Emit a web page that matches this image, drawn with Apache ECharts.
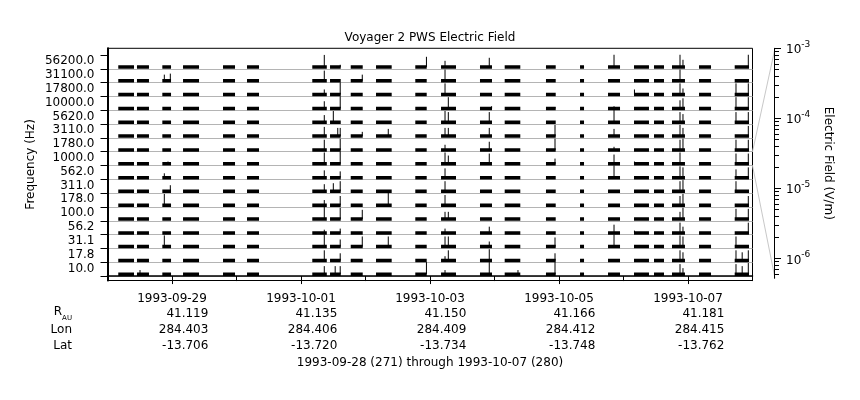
<!DOCTYPE html>
<html><head><meta charset="utf-8">
<script src="https://cdn.jsdelivr.net/npm/echarts@6/dist/echarts.min.js"></script>
<style>html,body{margin:0;padding:0;background:#fff}#c{width:860px;height:400px}</style>
</head><body><div id="c"></div>
<script>
// ---------- data ----------
const freqLabels = ['10.0','17.8','31.1','56.2','100.0','178.0','311.0','562.0','1000.0','1780.0','3110.0','5620.0','10000.0','17800.0','31100.0','56200.0'];
const dateLabels = ['1993-09-29','1993-10-01','1993-10-03','1993-10-05','1993-10-07'];
const dateDays = [1,3,5,7,9];               // days since 1993-09-28 00:00
const rAU = ['41.119','41.135','41.150','41.166','41.181'];
const lonVals = ['284.403','284.406','284.409','284.412','284.415'];
const latVals = ['-13.706','-13.720','-13.734','-13.748','-13.762'];
const footerText = '1993-09-28 (271) through 1993-10-07 (280)';
const fieldTicks = [1e-6,1e-5,1e-4,1e-3];
// data-coverage segments (days since 1993-09-28 00:00)
const segStart = [0.167,0.457,0.85,1.171,1.791,2.163,3.175,3.45,3.771,4.163,4.772,5.171,5.775,6.158,6.798,7.326,7.76,8.163,8.473,8.752,9.171,9.724];
const segEnd   = [0.411,0.643,0.985,1.419,1.977,2.349,3.40,3.616,3.957,4.406,4.949,5.403,5.961,6.40,6.949,7.388,7.946,8.395,8.628,8.953,9.357,9.946];
// background level per channel (V/m)
const noiseFloor = [1.4e-6,1.3e-6,1.4e-6,1.3e-6,1.4e-6,1.35e-6,1.4e-6,1.3e-6,1.3e-6,1.35e-6,1.35e-6,1.3e-6,1.35e-6,1.4e-6,1.4e-6,1.4e-6];
// impulsive events per channel: [day, V/m]
const spikes10    = [[0.504,1.4e-5],[3.361,1.2e-4],[3.53,1.2e-4],[3.608,1.2e-4],[4.945,1.1e-3],[5.233,1.4e-5],[5.919,1.1e-3],[6.364,1.4e-5],[6.938,1.1e-3],[8.876,3.6e-4],[8.922,4e-5],[9.744,3.6e-4],[9.84,1.2e-4],[9.935,6.5e-4]];
const spikes17    = [[3.361,3.6e-4],[3.608,7e-5],[5.233,1.4e-5],[5.284,3.6e-4],[5.919,6.5e-4],[6.938,7e-5],[8.876,3.6e-4],[8.922,1.2e-4],[9.744,3.6e-4],[9.84,1.2e-4],[9.935,3.6e-4]];
const spikes31    = [[0.881,6.5e-4],[3.361,1.1e-3],[3.608,7e-5],[3.95,3.6e-4],[4.353,3.6e-4],[5.233,3.6e-4],[5.284,3.6e-4],[5.919,2.3e-5],[6.938,2.1e-4],[7.853,1.1e-3],[8.876,6.5e-4],[8.922,3.6e-4],[9.744,3.6e-4]];
const spikes56    = [[3.361,7.6e-6],[3.608,1.4e-5],[5.233,1.4e-5],[5.919,4e-5],[7.853,1.2e-4],[8.17,4.6e-6],[8.876,3.6e-4],[8.922,4e-5],[9.935,3.6e-4]];
const spikes100   = [[3.361,1.1e-3],[3.608,6.5e-4],[3.95,2.1e-4],[5.233,7e-5],[5.284,7e-5],[8.876,7e-5],[8.922,6.5e-4],[9.744,3.6e-4],[9.935,3.6e-4]];
const spikes178   = [[0.881,6.5e-4],[3.361,2.3e-5],[3.608,2.1e-4],[4.353,1.1e-3],[5.233,3.6e-4],[8.876,2.1e-4],[8.922,6.5e-4],[9.935,2.1e-4]];
const spikes311   = [[0.974,4e-5],[3.361,7e-5],[3.501,1.2e-4],[3.608,3.6e-4],[5.233,3.6e-4],[6.364,2.7e-6],[8.876,3.6e-4],[8.922,6.5e-4],[9.744,3.6e-4]];
const spikes562   = [[0.881,1.4e-5],[3.361,7e-5],[3.608,4e-5],[5.233,2.1e-4],[7.853,1.1e-3],[8.876,6.5e-4],[8.922,3.6e-4],[9.744,1.2e-4],[9.935,3.6e-4]];
const spikes1000  = [[0.938,4.6e-6],[3.361,6.5e-4],[3.608,1.1e-3],[5.233,6.5e-4],[5.284,1.2e-4],[5.919,3.6e-4],[6.938,2.3e-5],[7.853,2.1e-4],[8.17,4.6e-6],[8.876,6.5e-4],[9.744,3.6e-4],[9.935,3.6e-4]];
const spikes1780  = [[3.361,3.6e-4],[3.608,6.5e-4],[5.233,2.3e-5],[5.919,1.2e-4],[6.938,6.5e-4],[7.853,7.6e-6],[8.876,3.6e-4],[8.922,6.5e-4],[9.744,3.6e-4],[9.935,3.6e-4]];
const spikes3110  = [[3.361,2.1e-4],[3.57,1.2e-4],[3.608,1.2e-4],[3.95,1.4e-5],[4.353,7e-5],[5.233,1.2e-4],[5.284,1.2e-4],[5.919,1.2e-4],[6.938,6.5e-4],[7.853,7e-5],[8.876,6.5e-4],[8.922,1.2e-4],[9.935,3.6e-4]];
const spikes5620  = [[3.361,7e-5],[3.501,6.5e-4],[5.233,6.5e-4],[5.284,3.6e-4],[5.919,3.6e-4],[7.853,1.1e-3],[8.876,3.6e-4],[8.922,1.2e-4],[9.744,3.6e-4],[9.935,3.6e-4]];
const spikes10000 = [[0.974,2.7e-6],[3.361,7e-5],[3.608,1.1e-3],[5.284,6.5e-4],[5.955,4.6e-6],[6.938,2.7e-6],[7.853,4.6e-6],[8.876,1.2e-4],[8.922,3.6e-4],[9.744,6.5e-4],[9.935,6.5e-4]];
const spikes17800 = [[3.361,2.3e-5],[3.608,1.1e-3],[5.233,6.5e-4],[7.853,2.7e-6],[8.17,2.3e-5],[8.876,6.5e-4],[8.922,4e-5],[9.744,6.5e-4],[9.935,6.5e-4]];
const spikes31100 = [[0.881,4e-5],[0.974,7e-5],[3.361,3.6e-4],[3.95,4e-5],[5.233,6.5e-4],[8.876,6.5e-4]];
const spikes56200 = [[3.361,1e-3],[3.608,4.6e-6],[4.945,3.6e-4],[5.233,4e-5],[5.919,2.1e-4],[7.853,1.1e-3],[8.876,1.1e-3],[8.922,7e-5],[9.935,1.1e-3]];
const spikes = [spikes10,spikes17,spikes31,spikes56,spikes100,spikes178,spikes311,spikes562,spikes1000,spikes1780,spikes3110,spikes5620,spikes10000,spikes17800,spikes31100,spikes56200];

// ---------- layout ----------
const FONT = 'DejaVu Sans';
const L = 107.5, R = 752.5, T = 48.3, B = 280.5;
const yMin = -0.32, yMax = 16.48;
const eMin = 5.2e-7, eMax = 1e-3;
const cbX = 775, cbTop = 48.3, cbBottom = 278.3;
function yPix(v){ return T + (yMax - v) / (yMax - yMin) * (B - T); }
const channelIdx = freqLabels.map((_, i) => i);

const grids = [{left: L, top: T, width: R - L, height: B - T, show: true, borderColor: '#000', borderWidth: 1, backgroundColor: 'transparent'}];
const xAxes = [
  {type: 'value', gridIndex: 0, min: 0, max: 10, interval: 1,
   axisLine: {show: true, lineStyle: {color: '#000', width: 1.5}},
   axisTick: {show: true, length: 5, lineStyle: {color: '#000'}},
   axisLabel: {show: true, customValues: dateDays, margin: 12, color: '#000', fontFamily: FONT, fontSize: 12,
     formatter: v => { const i = dateDays.indexOf(Math.round(v)); return i >= 0 ? dateLabels[i] : ''; }},
   splitLine: {show: false}},
  {type: 'value', gridIndex: 0, min: 0, max: 10, position: 'bottom',
   axisLine: {show: false}, axisLabel: {show: false}, splitLine: {show: false},
   axisTick: {show: true, length: 8, customValues: dateDays, lineStyle: {color: '#000'}}}
];
const yAxes = [
  {type: 'value', gridIndex: 0, min: yMin, max: yMax, z: 5,
   axisLine: {show: true, lineStyle: {color: '#000', width: 2}},
   axisTick: {show: true, length: 7, customValues: channelIdx.concat([16]), lineStyle: {color: '#000'}},
   axisLabel: {show: true, customValues: channelIdx.map(i => i + 0.55), margin: 13, color: '#000', fontFamily: FONT, fontSize: 12,
     formatter: v => freqLabels[Math.floor(v)] || ''},
   splitLine: {show: false},
   name: 'Frequency (Hz)', nameLocation: 'middle', nameGap: 71, nameRotate: 90, nameMoveOverlap: false,
   nameTextStyle: {color: '#000', fontFamily: FONT, fontSize: 12}}
];
const series = [];
for (let k = 0; k < 16; k++) {
  const gTop = yPix(k + 1), gBot = yPix(k);
  grids.push({left: L, top: gTop, width: R - L, height: gBot - gTop, show: false});
  xAxes.push({type: 'value', gridIndex: k + 1, min: 0, max: 10, show: false});
  yAxes.push({type: 'log', gridIndex: k + 1, min: eMin, max: eMax, show: false});
  const fl = noiseFloor[k];
  const band = [];
  for (let s = 0; s < segStart.length; s++) {
    band.push([segStart[s], fl], [segEnd[s], fl], [segEnd[s], '-']);
  }
  series.push({type: 'line', xAxisIndex: k + 2, yAxisIndex: k + 1, data: band, showSymbol: false, symbol: 'none',
    clip: false, z: 3, lineStyle: {color: '#000', width: 3.5, cap: 'butt'}, silent: true});
  const sp = [];
  spikes[k].forEach(([t, e]) => { sp.push([t, fl], [t, e], [t, '-']); });
  series.push({type: 'line', xAxisIndex: k + 2, yAxisIndex: k + 1, data: sp, showSymbol: false, symbol: 'none',
    clip: false, z: 4, lineStyle: {color: '#000', width: 1}, silent: true});
}
// colour-bar style field axis
grids.push({left: cbX - 1, top: cbTop, width: 1, height: cbBottom - cbTop, show: false});
xAxes.push({type: 'value', gridIndex: 17, min: 0, max: 1, show: false});
const minorVals = [];
for (let d = -7; d <= -4; d++) for (let m = 2; m <= 9; m++) { const v = m * Math.pow(10, d); if (v >= eMin && v <= eMax) minorVals.push(v); }
yAxes.push({type: 'log', gridIndex: 17, min: eMin, max: eMax, position: 'right',
  axisLine: {show: true, lineStyle: {color: '#000', width: 1}},
  axisTick: {show: true, length: 7, customValues: fieldTicks, lineStyle: {color: '#000'}},
  axisLabel: {show: true, customValues: fieldTicks, margin: 11, color: '#000', fontFamily: FONT,
    formatter: v => '{b|10}{s|' + Math.round(Math.log10(v)) + '}',
    rich: {b: {fontSize: 12, fontFamily: FONT, color: '#000', lineHeight: 16, verticalAlign: 'bottom'},
           s: {fontSize: 9, fontFamily: FONT, color: '#000', lineHeight: 10, verticalAlign: 'top'}}},
  splitLine: {show: false},
  name: 'Electric Field (V/m)', nameLocation: 'middle', nameGap: 47, nameRotate: -90, nameMoveOverlap: false,
  nameTextStyle: {color: '#000', fontFamily: FONT, fontSize: 12}});
yAxes.push({type: 'log', gridIndex: 17, min: eMin, max: eMax, position: 'right',
  axisLine: {show: false}, axisLabel: {show: false}, splitLine: {show: false},
  axisTick: {show: true, length: 4, customValues: minorVals, lineStyle: {color: '#000'}}});
// channel baselines (grey) on the main grid
yAxes.push({type: 'value', gridIndex: 0, min: yMin, max: yMax, position: 'left',
  axisLine: {show: false}, axisLabel: {show: false},
  axisTick: {show: false, customValues: channelIdx},
  splitLine: {show: true, lineStyle: {color: '#b4b4b4', width: 1}}});
series.push({type: 'line', xAxisIndex: 18, yAxisIndex: 17, data: []});

const chart = echarts.init(document.getElementById('c'), null, {renderer: 'canvas'});
chart.setOption({
  animation: false,
  backgroundColor: '#fff',
  title: {text: 'Voyager 2 PWS Electric Field', left: 'center', top: 27,
    textStyle: {fontSize: 12, fontWeight: 'normal', fontFamily: FONT, color: '#000'}},
  grid: grids, xAxis: xAxes, yAxis: yAxes, series: series
});

// connectors & ephemeris text
const g = [];
const rowK = 8;
g.push({type: 'line', silent: true, shape: {x1: R, y1: yPix(rowK + 1), x2: cbX, y2: cbTop}, style: {stroke: '#c8c8c8', lineWidth: 1}});
g.push({type: 'line', silent: true, shape: {x1: R, y1: yPix(rowK), x2: cbX, y2: cbBottom}, style: {stroke: '#c8c8c8', lineWidth: 1}});
const ctx = document.createElement('canvas').getContext('2d');
ctx.font = '12px ' + FONT;
const rows = [[rAU, 314], [lonVals, 330], [latVals, 345.5]];
dateDays.forEach((d, i) => {
  const px = chart.convertToPixel({xAxisIndex: 0}, d);
  const right = px + ctx.measureText(dateLabels[i]).width / 2 + 1.5;
  rows.forEach(([arr, y]) => {
    g.push({type: 'text', silent: true, style: {text: arr[i], x: right, y: y, align: 'right', verticalAlign: 'middle', font: '12px ' + FONT, fill: '#000'}});
  });
});
g.push({type: 'text', silent: true, style: {text: '{r|R}{s|AU}', x: 72, y: 314, align: 'right', verticalAlign: 'middle',
  rich: {r: {fontSize: 12, fontFamily: FONT, fill: '#000', color: '#000', lineHeight: 16, verticalAlign: 'top'},
         s: {fontSize: 7, fontFamily: FONT, fill: '#000', color: '#000', lineHeight: 16, verticalAlign: 'bottom'}}}});
g.push({type: 'text', silent: true, style: {text: 'Lon', x: 72, y: 330, align: 'right', verticalAlign: 'middle', font: '12px ' + FONT, fill: '#000'}});
g.push({type: 'text', silent: true, style: {text: 'Lat', x: 72, y: 345.5, align: 'right', verticalAlign: 'middle', font: '12px ' + FONT, fill: '#000'}});
g.push({type: 'text', silent: true, style: {text: footerText, x: (L + R) / 2, y: 362.5, align: 'center', verticalAlign: 'middle', font: '12px ' + FONT, fill: '#000'}});
chart.setOption({graphic: g});
</script></body></html>
